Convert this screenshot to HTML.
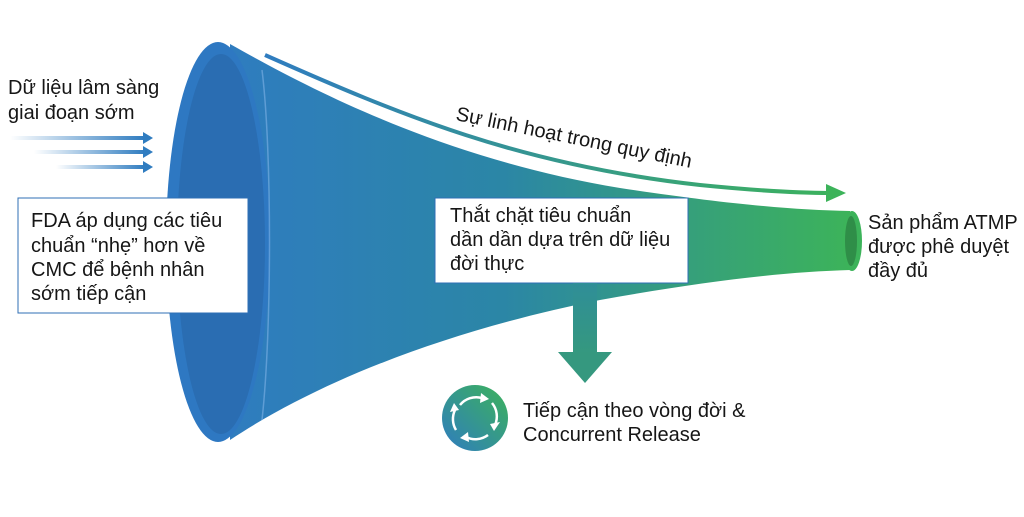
<!DOCTYPE html>
<html><head><meta charset="utf-8"><style>
html,body{margin:0;padding:0;background:#fff;}
svg{display:block}
text{font-family:"Liberation Sans",sans-serif;fill:#161616}
</style></head><body>
<svg width="1024" height="517" viewBox="0 0 1024 517" xmlns="http://www.w3.org/2000/svg">
<defs>
<linearGradient id="body" x1="220" y1="0" x2="850" y2="0" gradientUnits="userSpaceOnUse">
<stop offset="0" stop-color="#2f7cc0"/><stop offset="0.45" stop-color="#2b86a6"/><stop offset="0.75" stop-color="#36a07a"/><stop offset="1" stop-color="#3cb35a"/>
</linearGradient>
<linearGradient id="arr" x1="265" y1="0" x2="850" y2="0" gradientUnits="userSpaceOnUse">
<stop offset="0" stop-color="#2f7cc0"/><stop offset="1" stop-color="#3cb35a"/>
</linearGradient>
<linearGradient id="fade" x1="0" y1="0" x2="1" y2="0">
<stop offset="0" stop-color="#2f7cc0" stop-opacity="0"/><stop offset="1" stop-color="#2f7cc0"/>
</linearGradient>
<linearGradient id="down" x1="0" y1="0" x2="0" y2="1">
<stop offset="0" stop-color="#2f8e98"/><stop offset="1" stop-color="#35987f"/>
</linearGradient>
<linearGradient id="ic" x1="0" y1="1" x2="1" y2="0">
<stop offset="0" stop-color="#2f7cc0"/><stop offset="1" stop-color="#3cb35a"/>
</linearGradient>
</defs>
<path d="M230,44 C320,95 450,160 620,188 C720,203 790,210 850,211 L850,270 C780,272 700,282 600,300 C450,330 320,380 230,440 Z" fill="url(#body)"/>
<ellipse cx="218" cy="242" rx="52" ry="200" fill="#2e78c2"/>
<ellipse cx="221" cy="244" rx="44" ry="190" fill="#2a6db2"/>
<path d="M262,70 C272,150 272,330 262,420" stroke="#7fb3e6" stroke-width="1.5" fill="none" opacity="0.6"/>
<ellipse cx="852" cy="241" rx="10" ry="30" fill="#3cb35a"/>
<ellipse cx="851" cy="241" rx="6" ry="25" fill="#2f8e48"/>
<path d="M265,55 C400,115 520,165 700,185 C760,191 800,193 830,193" stroke="url(#arr)" stroke-width="4" fill="none"/>
<polygon points="826,184 846,193 826,202" fill="#3cb35a"/>
<text transform="translate(455,120) rotate(11.5)" font-size="20">Sự linh hoạt trong quy định</text>
<text x="8" y="94" font-size="20">Dữ liệu lâm sàng</text>
<text x="8" y="119" font-size="20">giai đoạn sớm</text>
<rect x="10" y="136" width="135" height="4" fill="url(#fade)"/>
<polygon points="143,132 153,138 143,144" fill="#2f7cc0"/>
<rect x="34" y="150" width="111" height="4" fill="url(#fade)"/>
<polygon points="143,146 153,152 143,158" fill="#2f7cc0"/>
<rect x="56" y="165" width="89" height="4" fill="url(#fade)"/>
<polygon points="143,161 153,167 143,173" fill="#2f7cc0"/>
<rect x="18" y="198" width="230" height="115" fill="#fff" stroke="#2f6fb5" stroke-width="1"/>
<text font-size="20"><tspan x="31" y="227">FDA áp dụng các tiêu</tspan><tspan x="31" y="252">chuẩn “nhẹ” hơn về</tspan><tspan x="31" y="276">CMC để bệnh nhân</tspan><tspan x="31" y="300">sớm tiếp cận</tspan></text>
<rect x="435" y="198" width="253" height="85" fill="#fff" stroke="#2f6fb5" stroke-width="1"/>
<text font-size="20"><tspan x="450" y="222">Thắt chặt tiêu chuẩn</tspan><tspan x="450" y="246">dần dần dựa trên dữ liệu</tspan><tspan x="450" y="270">đời thực</tspan></text>
<rect x="573" y="283" width="24" height="70" fill="url(#down)"/>
<polygon points="558,352 612,352 585,383" fill="#35987f"/>
<circle cx="475" cy="418" r="33" fill="url(#ic)"/>
<g stroke="#fff" stroke-width="2.5" fill="none">
<path d="M460,405 A21,21 0 0 1 482,398"/>
<path d="M492,403 A21,21 0 0 1 495,425"/>
<path d="M488,435 A21,21 0 0 1 466,437"/>
<path d="M456,430 A21,21 0 0 1 455,410"/>
</g>
<g fill="#fff">
<polygon points="481,393 489,399 480,403"/>
<polygon points="490,424 500,422 494,431"/>
<polygon points="468,432 460,438 469,442"/>
<polygon points="450,412 459,410 454,403"/>
</g>
<text font-size="20"><tspan x="523" y="417">Tiếp cận theo vòng đời &amp;</tspan><tspan x="523" y="441">Concurrent Release</tspan></text>
<text font-size="20"><tspan x="868" y="229">Sản phẩm ATMP</tspan><tspan x="868" y="253">được phê duyệt</tspan><tspan x="868" y="277">đầy đủ</tspan></text>
</svg>
</body></html>
